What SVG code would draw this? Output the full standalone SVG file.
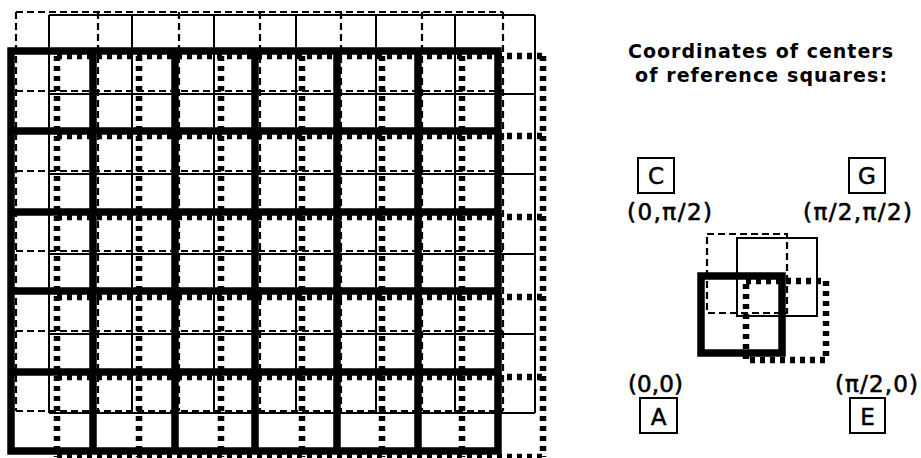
<svg xmlns="http://www.w3.org/2000/svg" width="921" height="458" viewBox="0 0 921 458">
<style>
.thick{fill:none;stroke:#000;stroke-width:7.5;stroke-linecap:square}
.dash{fill:none;stroke:#000;stroke-width:2.2;stroke-dasharray:7 4}
.thin{fill:none;stroke:#000;stroke-width:2}
.dot{fill:none;stroke:#000;stroke-width:6.5;stroke-dasharray:5 5}
.title{font-family:"DejaVu Sans",Verdana,sans-serif;font-weight:bold;font-size:19px;fill:#000}
.lbl{font-family:"DejaVu Sans",Verdana,sans-serif;font-size:23px;fill:#000;stroke:#000;stroke-width:0.6}
.box{fill:none;stroke:#000;stroke-width:2}
.let{font-family:"DejaVu Sans",Verdana,sans-serif;font-size:23px;fill:#000;stroke:#000;stroke-width:0.5;text-anchor:middle}
</style>
<rect width="921" height="458" fill="#fff"/>
<g id="grid-C">
<path class="dash" d="M16 12V411M98 12V411M179 12V411M260 12V411M341 12V411M422 12V411M503 12V411M16 12H503M16 91H503M16 171H503M16 251H503M16 331H503M16 411H503"/>
</g>
<g id="grid-G">
<path class="thin" d="M49 15V413M132 15V413M214 15V413M296 15V413M376 15V413M455 15V413M535 15V413M49 15H535M49 94H535M49 174H535M49 254H535M49 334H535M49 413H535"/>
</g>
<g id="grid-E">
<path class="dot" d="M57 56V457M139 56V457M221 56V457M302 56V457M382 56V457M462 56V457M543 56V457M57 56H543M57 136H543M57 217H543M57 297H543M57 377H543M57 457H543"/>
</g>
<g id="grid-A">
<path class="thick" d="M11 51V451M93 51V451M175 51V451M255 51V451M337 51V451M418 51V451M498 51V451M11 51H498M11 131H498M11 212H498M11 291H498M11 372H498M11 451H498"/>
</g>
<g id="title">
<text class="title" x="628" y="58" textLength="265" lengthAdjust="spacing">Coordinates of centers</text>
<text class="title" x="635" y="82" textLength="252" lengthAdjust="spacing">of reference squares:</text>
</g>
<g id="legend-squares">
<rect class="dash" x="707" y="234" width="80" height="79"/>
<rect class="thin" x="737" y="238" width="80" height="78"/>
<rect class="dot" x="746" y="281" width="80" height="79"/>
<rect class="thick" x="701" y="276" width="81" height="77"/>
</g>
<g id="label-C">
<rect class="box" x="638" y="158" width="36" height="35"/>
<text class="let" x="656" y="184">C</text>
<text class="lbl" x="627" y="220" textLength="85" lengthAdjust="spacing">(0,π/2)</text>
</g>
<g id="label-G">
<rect class="box" x="849" y="158" width="36" height="35"/>
<text class="let" x="867" y="184">G</text>
<text class="lbl" x="803" y="220" textLength="109" lengthAdjust="spacing">(π/2,π/2)</text>
</g>
<g id="label-A">
<text class="lbl" x="628" y="392" textLength="55" lengthAdjust="spacing">(0,0)</text>
<rect class="box" x="640" y="398" width="37" height="35"/>
<text class="let" x="658.5" y="425">A</text>
</g>
<g id="label-E">
<text class="lbl" x="835" y="392" textLength="83" lengthAdjust="spacing">(π/2,0)</text>
<rect class="box" x="850" y="398" width="35" height="35"/>
<text class="let" x="867.5" y="425">E</text>
</g>
</svg>
